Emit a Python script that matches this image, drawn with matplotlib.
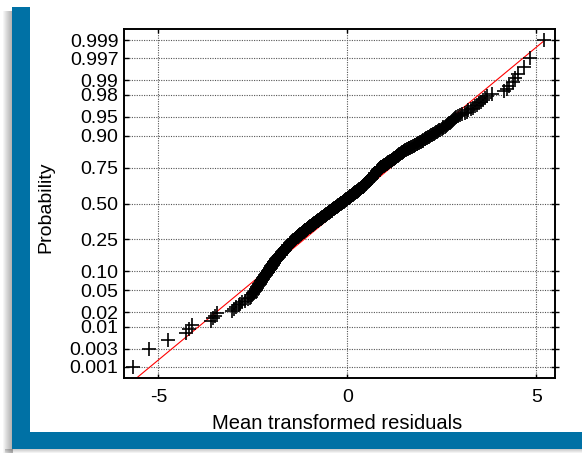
import matplotlib
matplotlib.use('Agg')
import matplotlib.pyplot as plt
from matplotlib.patches import Rectangle
from statistics import NormalDist

# ---------------- data (sorted mean transformed residuals) ----------------
lower_tail = [-5.66, -5.24, -4.74, -4.28, -4.19, -4.10, -3.61, -3.55, -3.49, -3.44,
              -3.05, -3.00, -2.94, -2.88, -2.84, -2.79, -2.70, -2.64, -2.59, -2.55]

core_low = [-2.53, -2.51, -2.49, -2.47, -2.45,
            -2.43, -2.42, -2.40, -2.39, -2.37, -2.35, -2.34, -2.32, -2.31, -2.29, -2.28,
            -2.27, -2.25, -2.24, -2.23, -2.21, -2.20, -2.19, -2.17, -2.16, -2.15, -2.13, -2.12, -2.11, -2.10,
            -2.09, -2.08, -2.07, -2.06, -2.05, -2.04, -2.03, -2.02, -2.01, -2.00, -1.99, -1.98, -1.97, -1.96,
            -1.95, -1.94, -1.93, -1.93, -1.92, -1.91, -1.90, -1.89, -1.88, -1.87, -1.86, -1.85, -1.84, -1.83,
            -1.82, -1.81, -1.80, -1.79, -1.78,
            -1.77, -1.76, -1.75, -1.74, -1.74, -1.73, -1.72, -1.71, -1.70, -1.69, -1.68, -1.67, -1.66, -1.65,
            -1.65, -1.64, -1.63, -1.62, -1.61, -1.60, -1.59, -1.58, -1.57, -1.56, -1.56, -1.55, -1.54, -1.53,
            -1.52, -1.51, -1.50, -1.49, -1.48, -1.47, -1.47, -1.46, -1.45, -1.44, -1.43, -1.42, -1.41, -1.40,
            -1.39, -1.38, -1.37, -1.36, -1.35, -1.34, -1.33, -1.32, -1.31, -1.30, -1.29, -1.28, -1.27, -1.26,
            -1.25, -1.24, -1.23, -1.22, -1.21, -1.20, -1.19, -1.18, -1.17, -1.16, -1.15, -1.14, -1.13, -1.12,
            -1.11, -1.10, -1.09, -1.08, -1.07, -1.06, -1.05, -1.04, -1.03, -1.02, -1.01, -1.00, -0.99, -0.98,
            -0.97, -0.96, -0.95, -0.94, -0.93, -0.92, -0.91, -0.90, -0.89, -0.88, -0.87, -0.86, -0.85, -0.84,
            -0.83, -0.82, -0.81, -0.80, -0.79]

core_mid = [-0.78, -0.77, -0.76, -0.75, -0.74, -0.73, -0.72, -0.71, -0.70, -0.69, -0.68, -0.67, -0.66,
            -0.65, -0.64, -0.63, -0.62, -0.61, -0.60, -0.60, -0.59, -0.58, -0.57, -0.56, -0.55, -0.54, -0.53,
            -0.52, -0.51, -0.50, -0.49, -0.48, -0.47, -0.46, -0.45, -0.44, -0.43, -0.42, -0.41, -0.41, -0.40,
            -0.39, -0.38, -0.37, -0.36, -0.35, -0.34, -0.33, -0.32, -0.31, -0.30, -0.29, -0.28, -0.27, -0.26,
            -0.25, -0.24, -0.23, -0.22, -0.22, -0.21, -0.20, -0.19, -0.18,
            -0.17, -0.16, -0.15, -0.14, -0.13, -0.12, -0.11, -0.10, -0.09, -0.08, -0.07, -0.06, -0.06,
            -0.05, -0.04, -0.03, -0.02, -0.01, 0.00, 0.01, 0.02, 0.03, 0.04, 0.05, 0.06, 0.06,
            0.07, 0.08, 0.09, 0.10, 0.11, 0.12, 0.13, 0.14, 0.15, 0.16, 0.17, 0.18, 0.18,
            0.19, 0.20, 0.21, 0.22, 0.23, 0.24, 0.25, 0.26, 0.27, 0.28, 0.29, 0.30, 0.30,
            0.31, 0.32, 0.33, 0.34, 0.35, 0.36, 0.37, 0.38, 0.39, 0.40, 0.41, 0.42, 0.42,
            0.43, 0.44, 0.44, 0.45, 0.46, 0.47, 0.47, 0.48, 0.49, 0.50, 0.50, 0.51, 0.52, 0.53, 0.53,
            0.54, 0.55, 0.55, 0.56, 0.57, 0.58, 0.58, 0.59, 0.60, 0.61, 0.61, 0.62, 0.63, 0.64, 0.64,
            0.65, 0.66, 0.66, 0.67, 0.68, 0.69, 0.69, 0.70, 0.71, 0.72, 0.72, 0.73, 0.74, 0.75, 0.75,
            0.76, 0.77, 0.77, 0.78, 0.79, 0.80, 0.80, 0.81, 0.82, 0.83, 0.83, 0.84, 0.85, 0.86, 0.86]

core_high = [0.87, 0.89, 0.90, 0.92, 0.93, 0.94, 0.96, 0.97, 0.99, 1.00, 1.01, 1.03, 1.04, 1.05,
             1.07, 1.08, 1.10, 1.11, 1.12, 1.14, 1.15, 1.17, 1.18, 1.19, 1.21, 1.22, 1.24, 1.25,
             1.26, 1.28, 1.29, 1.30, 1.32, 1.33, 1.35, 1.36, 1.37, 1.39, 1.40, 1.42, 1.43, 1.44,
             1.46, 1.47, 1.49, 1.50,
             1.52, 1.55, 1.57, 1.59, 1.62, 1.64, 1.66, 1.69, 1.71, 1.73, 1.76, 1.78, 1.80, 1.83,
             1.85, 1.87, 1.90, 1.92, 1.94, 1.97, 1.99, 2.01, 2.04, 2.06, 2.08, 2.11, 2.13, 2.15, 2.18,
             2.21, 2.24, 2.26, 2.29, 2.32, 2.35, 2.38, 2.40, 2.43, 2.46, 2.49, 2.52, 2.54, 2.57,
             2.60, 2.63, 2.66, 2.68, 2.71, 2.74, 2.77, 2.80, 2.82, 2.85, 2.88,
             2.93, 2.99, 3.04, 3.10, 3.15, 3.20, 3.26, 3.31, 3.37, 3.42, 3.47, 3.53, 3.58]

upper_tail = [3.63, 3.69, 3.82, 4.15, 4.22, 4.28, 4.39, 4.44, 4.50, 4.66, 4.83, 5.21]

prob_ticks = [0.001, 0.003, 0.01, 0.02, 0.05, 0.10, 0.25, 0.50, 0.75, 0.90, 0.95, 0.98, 0.99, 0.997, 0.999]
prob_labels = ['0.001', '0.003', '0.01', '0.02', '0.05', '0.10', '0.25', '0.50', '0.75',
               '0.90', '0.95', '0.98', '0.99', '0.997', '0.999']
x_ticks = [-5, 0, 5]
x_tick_labels = ['-5', '0', '5']
ref_mean = 0.0      # reference (fitted normal) line
ref_sd = 1.69

# ---------------- derived ----------------
nd = NormalDist()
residuals = sorted(lower_tail + core_low + core_mid + core_high + upper_tail)
n = len(residuals)
zq = [nd.inv_cdf((i + 0.5) / n) for i in range(n)]   # plotting positions on probit scale
ytick_z = [nd.inv_cdf(p) for p in prob_ticks]

plt.rcParams['font.family'] = ['Liberation Sans', 'DejaVu Sans']

W, H = 582, 453
fig = plt.figure(figsize=(W / 100, H / 100), dpi=100)
fig.patch.set_facecolor('white')


def rect(x0, y0, x1, y1, **kw):
    # pixel box (top-left origin) -> figure coords
    fig.patches.append(Rectangle((x0 / W, 1 - y1 / H), (x1 - x0) / W, (y1 - y0) / H,
                                 transform=fig.transFigure, figure=fig, **kw))


# soft shadow of the frame
for k in range(9):
    rect(3 + k, 11, 12.5, 453, facecolor='#000000', alpha=0.035, lw=0, zorder=0)
for k in range(4):
    rect(5, 449, 582, 449 + (4 - k), facecolor='#000000', alpha=0.05, lw=0, zorder=0)

blue = '#0071A5'
rect(12, 7, 30, 449, facecolor=blue, lw=0, zorder=1)
rect(12, 432, 582, 449, facecolor=blue, lw=0, zorder=1)

# ---------------- axes ----------------
L, R, T, B = 124, 555, 29, 378
ax = fig.add_axes([L / W, 1 - B / H, (R - L) / W, (B - T) / H])
ax.set_facecolor('white')

ax.plot([residuals[0], residuals[-1]],
        [(residuals[0] - ref_mean) / ref_sd, (residuals[-1] - ref_mean) / ref_sd],
        color='#ff0000', lw=0.8, zorder=2)
ax.plot(residuals, zq, linestyle='none', marker='+', color='black', ms=10, mew=1.2, zorder=3)

ax.set_xlim(-5.91, 5.49)
ax.set_ylim(-3.3, 3.3)
ax.set_xticks(x_ticks)
ax.set_xticklabels(x_tick_labels)
ax.set_yticks(ytick_z)
ax.set_yticklabels(prob_labels)

ax.grid(True, linestyle=(0, (1, 1.2)), color='#555555', lw=0.8)
ax.set_axisbelow(True)

for s in ax.spines.values():
    s.set_linewidth(1.4)
    s.set_color('black')

ax.tick_params(axis='y', direction='in', length=3.5, width=1, left=True, right=False,
               labelsize=14, pad=4)
ax.tick_params(axis='x', direction='in', length=3, width=1, top=True, bottom=True,
               labelsize=14, pad=8)

ax2 = ax.twinx()
ax2.set_ylim(ax.get_ylim())
ax2.set_yticks(ytick_z)
ax2.set_yticklabels([])
ax2.tick_params(axis='y', direction='inout', length=5.5, width=1)
for s in ax2.spines.values():
    s.set_visible(False)

fig.text(46 / W, 1 - 207 / H, 'Probability', rotation=90, ha='center', va='center', fontsize=14)
fig.text(337 / W, 1 - 429 / H, 'Mean transformed residuals', ha='center', va='baseline', fontsize=14.5)

fig.savefig('out.png', dpi=100, facecolor='white')
